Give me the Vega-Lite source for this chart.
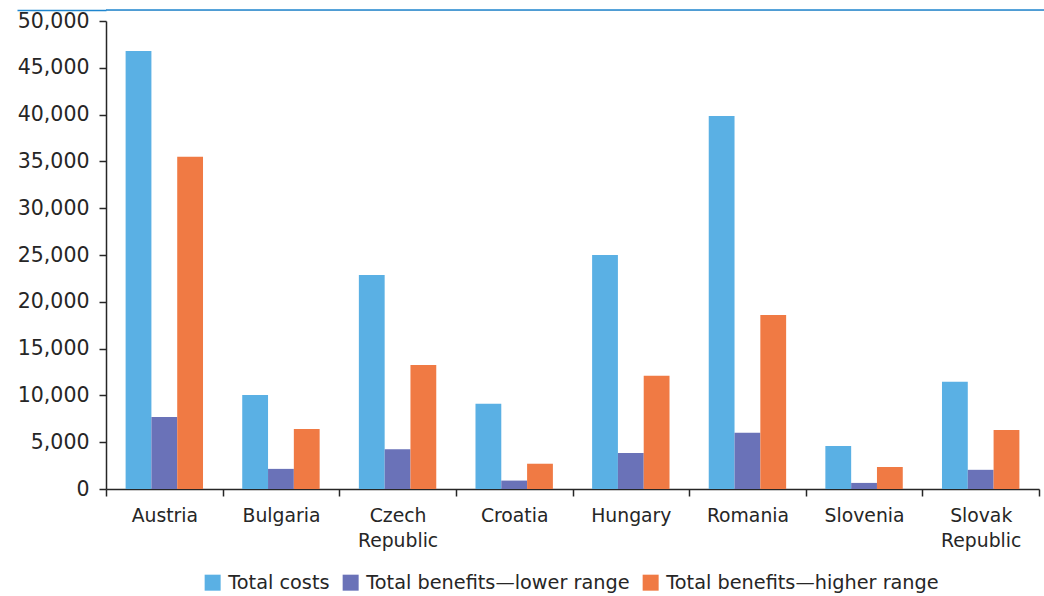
{
  "$schema": "https://vega.github.io/schema/vega-lite/v6.json",
  "padding": {"left": 16, "top": 9, "right": 0, "bottom": 0},
  "columns": 1,
  "align": "none",
  "config": {
    "font": "DejaVu Sans",
    "view": {"stroke": null},
    "concat": {"spacing": 0},
    "axis": {"labelColor": "#262626", "domainColor": "#262626", "tickColor": "#262626", "domainWidth": 1.5, "tickWidth": 1.5}
  },
  "concat": [
    {
      "width": 939,
      "height": 1,
      "data": {"values": [{"v": 1}]},
      "mark": {"type": "rule", "color": "#1f86cf", "strokeWidth": 1.5},
      "encoding": {
        "y": {
          "field": "v",
          "type": "quantitative",
          "scale": {"domain": [0, 1]},
          "axis": {
            "title": null,
            "values": [1],
            "labels": false,
            "domain": false,
            "ticks": true,
            "tickSize": 89,
            "tickColor": "#1f86cf",
            "tickWidth": 1.5
          }
        }
      }
    },
    {
      "width": 933,
      "height": 468,
      "data": {
        "values": [
          {"country": "Austria", "series": "Total costs", "value": 46800},
          {"country": "Austria", "series": "Total benefits—lower range", "value": 7700},
          {"country": "Austria", "series": "Total benefits—higher range", "value": 35500},
          {"country": "Bulgaria", "series": "Total costs", "value": 10050},
          {"country": "Bulgaria", "series": "Total benefits—lower range", "value": 2150},
          {"country": "Bulgaria", "series": "Total benefits—higher range", "value": 6400},
          {"country": "Czech Republic", "series": "Total costs", "value": 22850},
          {"country": "Czech Republic", "series": "Total benefits—lower range", "value": 4250},
          {"country": "Czech Republic", "series": "Total benefits—higher range", "value": 13250},
          {"country": "Croatia", "series": "Total costs", "value": 9100},
          {"country": "Croatia", "series": "Total benefits—lower range", "value": 900},
          {"country": "Croatia", "series": "Total benefits—higher range", "value": 2700},
          {"country": "Hungary", "series": "Total costs", "value": 25000},
          {"country": "Hungary", "series": "Total benefits—lower range", "value": 3850},
          {"country": "Hungary", "series": "Total benefits—higher range", "value": 12100},
          {"country": "Romania", "series": "Total costs", "value": 39850},
          {"country": "Romania", "series": "Total benefits—lower range", "value": 6000},
          {"country": "Romania", "series": "Total benefits—higher range", "value": 18600},
          {"country": "Slovenia", "series": "Total costs", "value": 4600},
          {"country": "Slovenia", "series": "Total benefits—lower range", "value": 650},
          {"country": "Slovenia", "series": "Total benefits—higher range", "value": 2350},
          {"country": "Slovak Republic", "series": "Total costs", "value": 11450},
          {"country": "Slovak Republic", "series": "Total benefits—lower range", "value": 2050},
          {"country": "Slovak Republic", "series": "Total benefits—higher range", "value": 6300}
        ]
      },
      "mark": {"type": "bar"},
      "encoding": {
        "x": {
          "field": "country",
          "type": "nominal",
          "sort": null,
          "scale": {"paddingInner": 0, "paddingOuter": 0},
          "axis": {
            "title": null,
            "labelAngle": 0,
            "labelFontSize": 18.8,
            "labelPadding": 10,
            "labelLineHeight": 25,
            "tickSize": 7,
            "tickBand": "extent",
            "labelExpr": "split(datum.label, ' ')"
          }
        },
        "xOffset": {
          "field": "series",
          "type": "nominal",
          "sort": null,
          "scale": {"paddingInner": 0, "paddingOuter": 0.76}
        },
        "y": {
          "field": "value",
          "type": "quantitative",
          "scale": {"domain": [0, 50000], "nice": false},
          "axis": {
            "title": null,
            "values": [0, 5000, 10000, 15000, 20000, 25000, 30000, 35000, 40000, 45000, 50000],
            "format": ",d",
            "labelFontSize": 20.5,
            "labelPadding": 10,
            "tickSize": 7,
            "grid": false
          }
        },
        "color": {
          "field": "series",
          "type": "nominal",
          "sort": null,
          "scale": {
            "domain": ["Total costs", "Total benefits—lower range", "Total benefits—higher range"],
            "range": ["#5ab0e4", "#6a72b8", "#f07a44"]
          },
          "legend": {
            "title": null,
            "orient": "none",
            "legendX": 97,
            "legendY": 563,
            "direction": "horizontal",
            "symbolType": "square",
            "symbolSize": 256,
            "symbolStrokeWidth": 0,
            "symbolOpacity": 1,
            "labelFontSize": 19.3,
            "labelColor": "#262626",
            "labelOffset": 6,
            "columnPadding": 11,
            "labelLimit": 400
          }
        }
      }
    }
  ]
}
